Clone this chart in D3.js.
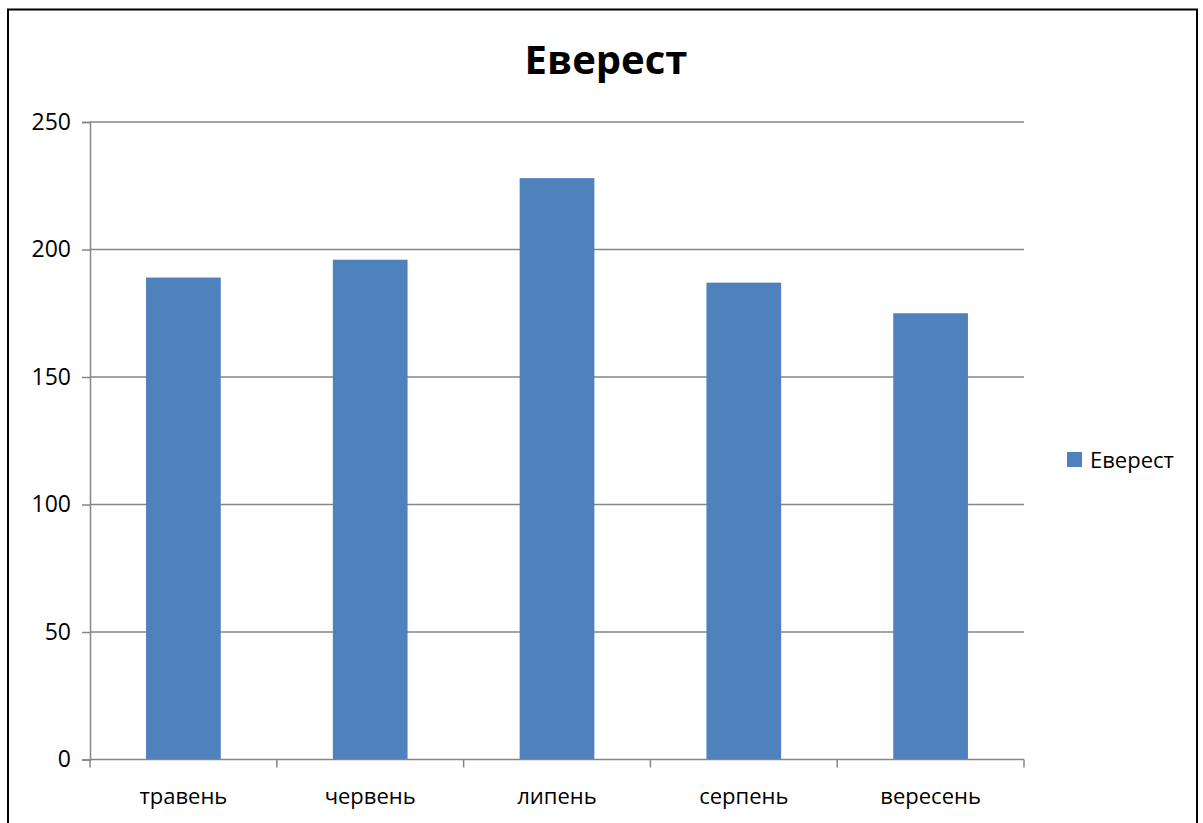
<!DOCTYPE html>
<html>
<head>
<meta charset="utf-8">
<script src="https://cdn.jsdelivr.net/npm/d3@7"></script>
<style>
  html, body { margin: 0; padding: 0; background: #fff; }
  svg { display: block; }
  text { font-family: "Open Sans", "Noto Sans", sans-serif; fill: #000; }
</style>
</head>
<body>
<svg id="chart" width="1203" height="823"></svg>
<script>
// Monthly values for the single series
const categories = ["травень", "червень", "липень", "серпень", "вересень"];
const seriesName = "Еверест";
const values = [189, 196, 228, 187, 175];
const yTicks = [0, 50, 100, 150, 200, 250];

const svg = d3.select("#chart");
const plot = { left: 90, right: 1024, top: 122, bottom: 759.5 };
const barColor = "#4F81BD";
const gridColor = "#868686";

// outer frame of the chart
svg.append("rect")
  .attr("x", 8).attr("y", 9.5)
  .attr("width", 1189).attr("height", 830)
  .attr("fill", "#fff").attr("stroke", "#000").attr("stroke-width", 2);

const x = d3.scaleBand()
  .domain(categories)
  .range([plot.left, plot.right])
  .paddingInner(0.6)
  .paddingOuter(0.3);

const y = d3.scaleLinear()
  .domain([0, 250])
  .range([plot.bottom, plot.top]);

// horizontal gridlines
svg.append("g")
  .selectAll("line")
  .data(yTicks.filter(d => d > 0))
  .join("line")
  .attr("x1", plot.left).attr("x2", plot.right)
  .attr("y1", d => y(d)).attr("y2", d => y(d))
  .attr("stroke", gridColor).attr("stroke-width", 1.5);

// bars
svg.append("g")
  .selectAll("rect")
  .data(values)
  .join("rect")
  .attr("x", (d, i) => x(categories[i]))
  .attr("y", d => y(d))
  .attr("width", x.bandwidth())
  .attr("height", d => y(0) - y(d))
  .attr("fill", barColor);

// y axis
const yAxis = svg.append("g")
  .attr("transform", `translate(${plot.left},0)`)
  .call(d3.axisLeft(y).tickValues(yTicks).tickSize(8).tickPadding(11));
yAxis.selectAll("line, path").attr("stroke", gridColor).attr("stroke-width", 1.5);
yAxis.selectAll("text").style("font-size", "23px").attr("fill", "#000")
  .style("font-family", "'Open Sans', sans-serif");

// x axis with ticks at category boundaries
const xAxis = svg.append("g")
  .attr("transform", `translate(0,${plot.bottom})`);
xAxis.append("line")
  .attr("x1", plot.left).attr("x2", plot.right)
  .attr("stroke", gridColor).attr("stroke-width", 1.5);
const step = (plot.right - plot.left) / categories.length;
xAxis.selectAll("line.tick")
  .data(d3.range(categories.length + 1))
  .join("line")
  .attr("class", "tick")
  .attr("x1", i => plot.left + i * step).attr("x2", i => plot.left + i * step)
  .attr("y1", 0).attr("y2", 8)
  .attr("stroke", gridColor).attr("stroke-width", 1.5);
xAxis.selectAll("text")
  .data(categories)
  .join("text")
  .attr("x", d => x(d) + x.bandwidth() / 2)
  .attr("y", 44)
  .attr("text-anchor", "middle")
  .style("font-size", "22px")
  .text(d => d);

// title
svg.append("text")
  .attr("x", 606).attr("y", 74)
  .attr("text-anchor", "middle")
  .style("font-size", "40px").style("font-weight", "bold")
  .text(seriesName);

// legend
const legend = svg.append("g").attr("transform", "translate(1067,452)");
legend.append("rect").attr("width", 15).attr("height", 15).attr("fill", barColor);
legend.append("text").attr("x", 23).attr("y", 15.5)
  .style("font-size", "22px").text(seriesName);
</script>
</body>
</html>
